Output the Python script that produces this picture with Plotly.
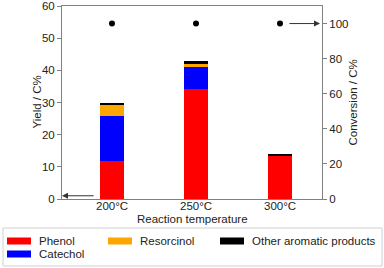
import plotly.graph_objects as go

categories = ["200°C", "250°C", "300°C"]
phenol = [11.9, 34.2, 13.4]
catechol = [13.9, 6.9, 0.2]
resorcinol = [3.7, 0.8, 0.0]
other = [0.5, 1.0, 0.2]
conversion = [100, 100, 100]

series = [("Phenol", phenol, "#ff0000"), ("Catechol", catechol, "#0000ff"),
          ("Resorcinol", resorcinol, "#ffa500"), ("Other aromatic products", other, "#000000")]

W, H = 384, 268
L, R, T, B = 62, 322, 6, 199
xpos = list(range(len(categories)))

fig = go.Figure()
for name, vals, col in series:
    fig.add_trace(go.Bar(x=xpos, y=vals, name=name, marker=dict(color=col, line=dict(width=0)),
                         width=0.286, showlegend=False))
fig.add_trace(go.Scatter(x=xpos, y=conversion, yaxis="y2", mode="markers",
                         marker=dict(color="black", size=6), showlegend=False))

def px(x):
    return (x - L) / (R - L)

def py(y):
    return (B - y) / (B - T)

gray = "#808080"
font = dict(family="Liberation Sans, Arial", size=11.5, color="#222")

shapes = [dict(type="rect", xref="paper", yref="paper", x0=px(3), x1=px(382), y0=py(228), y1=py(266),
               line=dict(color="#d0d0d0", width=1))]
annotations = []
leg = [("Phenol", "#ff0000", 7, 241), ("Resorcinol", "#ffa500", 108, 241),
       ("Other aromatic products", "#000000", 220, 241), ("Catechol", "#0000ff", 7, 254)]
for name, col, x0, yc in leg:
    shapes.append(dict(type="rect", xref="paper", yref="paper", x0=px(x0), x1=px(x0 + 24),
                       y0=py(yc + 3.5), y1=py(yc - 3.5), fillcolor=col, line=dict(width=0)))
    annotations.append(dict(xref="paper", yref="paper", x=px(x0 + 31), y=py(yc), text=name,
                            showarrow=False, xanchor="left", yanchor="middle", font=font,
                            borderpad=0))

# category tick labels
for xi, lab in zip(xpos, categories):
    annotations.append(dict(xref="x", yref="paper", x=xi, y=py(206.5), text=lab, showarrow=False,
                            xanchor="center", yanchor="middle", font=font, borderpad=0))

# axis titles
annotations.append(dict(xref="paper", yref="paper", x=px(192), y=py(219), text="Reaction temperature",
                        showarrow=False, xanchor="center", yanchor="middle", font=font))
annotations.append(dict(xref="paper", yref="paper", x=px(36), y=0.5, text="Yield / C%", textangle=-90,
                        showarrow=False, xanchor="center", yanchor="middle", font=font))
annotations.append(dict(xref="paper", yref="paper", x=px(352), y=0.5, text="Conversion / C%",
                        textangle=-90, showarrow=False, xanchor="center", yanchor="middle", font=font))

annotations.append(dict(x=-0.595, y=1, xref="x", yref="y", ax=-0.2, ay=1, axref="x", ayref="y",
                        text="", showarrow=True, arrowhead=2, arrowsize=1.2, arrowwidth=1,
                        arrowcolor="#333"))
annotations.append(dict(x=2.476, y=100, xref="x", yref="y2", ax=2.095, ay=100, axref="x", ayref="y2",
                        text="", showarrow=True, arrowhead=2, arrowsize=1.2, arrowwidth=1,
                        arrowcolor="#333"))

fig.update_layout(
    width=W, height=H, margin=dict(l=L, r=W - R, t=T, b=H - B, autoexpand=False),
    barmode="stack", plot_bgcolor="white", paper_bgcolor="white",
    font=font, shapes=shapes, annotations=annotations,
    xaxis=dict(range=[-0.595, 2.5], tickvals=xpos, showticklabels=False, showline=True,
               linecolor=gray, mirror=True, ticks="", showgrid=False, zeroline=False,
               automargin=False),
    yaxis=dict(range=[0, 60], dtick=10, showline=True, linecolor=gray, ticks="outside", ticklen=4,
               tickcolor=gray, showgrid=False, zeroline=False, tickfont=font, automargin=False),
    yaxis2=dict(range=[0, 110], tickvals=[0, 20, 40, 60, 80, 100], overlaying="y", side="right",
                showline=True, linecolor=gray, ticks="outside", ticklen=4, tickcolor=gray,
                showgrid=False, zeroline=False, tickfont=font, automargin=False),
)
fig.write_html("out.html", config={"displayModeBar": False},
               post_script="document.body.style.margin='0';document.body.style.padding='0';")
